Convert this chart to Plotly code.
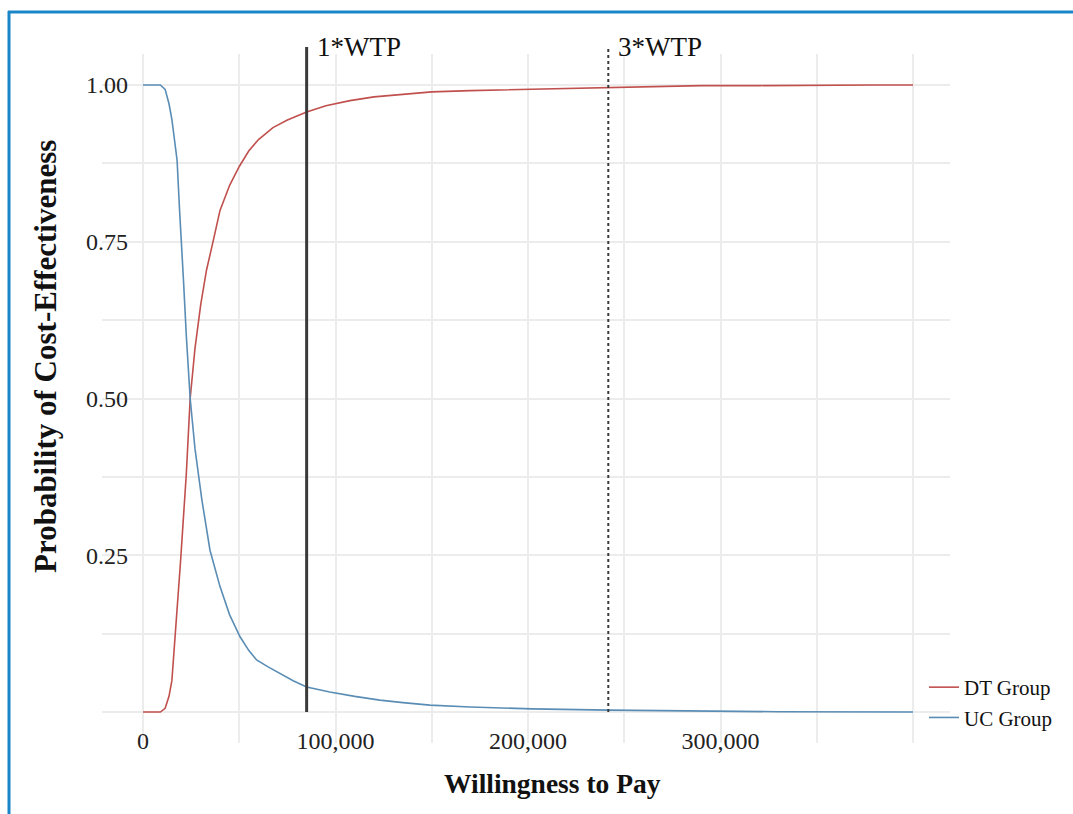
import plotly.graph_objects as go

# ---- data ----
dt_wtp = [0, 5000, 9000, 11500, 13500, 15000, 16500, 18000, 19500, 21000, 22500, 24500,
          27000, 30000, 33000, 36000, 40000, 45000, 50000, 55000, 60000, 67500, 75000,
          85000, 95000, 107500, 120000, 135000, 150000, 170000, 185000, 200000, 220000,
          242000, 260000, 290000, 320000, 350000, 380000, 400000]
dt_prob = [0, 0, 0, 0.006, 0.025, 0.05, 0.11, 0.17, 0.24, 0.31, 0.38, 0.50,
           0.58, 0.65, 0.705, 0.745, 0.80, 0.84, 0.87, 0.895, 0.913, 0.932, 0.944,
           0.957, 0.967, 0.975, 0.981, 0.985, 0.989, 0.991, 0.992, 0.994, 0.995,
           0.996, 0.998, 0.999, 0.999, 1.0, 1.0, 1.0]

uc_wtp = [0, 5000, 9000, 11500, 13500, 15000, 16500, 17700, 19000, 20000, 21000, 22500,
          24500, 27000, 30600, 34800, 40000, 45000, 50400, 55000, 59000, 65000, 71000,
          78000, 85000, 97000, 110000, 123000, 135000, 149000, 170000, 202000, 242000,
          290000, 330000, 400000]
uc_prob = [1, 1, 1, 0.993, 0.97, 0.945, 0.91, 0.88, 0.80, 0.753, 0.69, 0.60,
           0.50, 0.42, 0.338, 0.258, 0.20, 0.155, 0.12, 0.098, 0.083, 0.072, 0.062,
           0.05, 0.04, 0.032, 0.025, 0.019, 0.015, 0.011, 0.008, 0.005, 0.003,
           0.001, 0.0005, 0.0]

wtp_lines = [85000, 241700]
wtp_labels = ["1*WTP", "3*WTP"]
wtp_dash = ["solid", "dot"]
wtp_width = [3, 2]

x_ticks = [0, 100000, 200000, 300000]
x_tick_text = ["0", "100,000", "200,000", "300,000"]
y_ticks = [0.25, 0.5, 0.75, 1.0]
y_tick_text = ["0.25", "0.50", "0.75", "1.00"]

FONT = "Liberation Serif, Times New Roman, serif"
GRID = "#ECECEC"

# plot area in pixels (for paper conversions of decorations)
L, R, T, B = 102, 950, 54, 743
W, H = 1073, 814
def px(xp):
    return (xp - L) / (R - L)
def py(yp):
    return (B - yp) / (B - T)

fig = go.Figure()
fig.add_trace(go.Scatter(x=dt_wtp, y=dt_prob, mode="lines", name="DT Group",
                         line=dict(color="#C0504D", width=1.6)))
fig.add_trace(go.Scatter(x=uc_wtp, y=uc_prob, mode="lines", name="UC Group",
                         line=dict(color="#5A8DB5", width=1.6)))

shapes = []
annotations = []
for xv, lab, dash, w in zip(wtp_lines, wtp_labels, wtp_dash, wtp_width):
    shapes.append(dict(type="line", xref="x", yref="paper", x0=xv, x1=xv,
                       y0=py(712), y1=py(47),
                       line=dict(color="#3A3A3A", width=w, dash=dash)))
    annotations.append(dict(text=lab, xref="x", yref="paper", x=xv, y=py(47),
                            xanchor="left", yanchor="middle", xshift=8, showarrow=False,
                            font=dict(family=FONT, size=27, color="#111")))

# frame lines (left and top) of the picture
shapes.append(dict(type="line", xref="paper", yref="paper", x0=px(9), x1=px(9),
                   y0=py(11), y1=py(W), line=dict(color="#1A86C8", width=3)))
shapes.append(dict(type="line", xref="paper", yref="paper", x0=px(8), x1=px(1080),
                   y0=py(12), y1=py(12), line=dict(color="#1A86C8", width=3)))

annotations.append(dict(text="<b>Willingness to Pay</b>", xref="paper", yref="paper",
                        x=px(552), y=py(783), xanchor="center", yanchor="middle",
                        showarrow=False, font=dict(family=FONT, size=27.5, color="#111")))
annotations.append(dict(text="<b>Probability of Cost-Effectiveness</b>", xref="paper",
                        yref="paper", x=px(45), y=py(357), xanchor="center",
                        yanchor="middle", textangle=-90, showarrow=False,
                        font=dict(family=FONT, size=31, color="#111")))

fig.update_layout(
    width=W, height=H,
    margin=dict(l=L, r=W - R, t=T, b=H - B),
    paper_bgcolor="white", plot_bgcolor="white",
    font=dict(family=FONT, size=24, color="#222"),
    showlegend=True,
    legend=dict(x=px(924), y=py(667), xanchor="left", yanchor="top",
                font=dict(family=FONT, size=21, color="#111"),
                bgcolor="rgba(0,0,0,0)", tracegroupgap=0, itemwidth=30),
    shapes=shapes, annotations=annotations,
)
fig.update_xaxes(range=[-21300, 419200], tickvals=x_ticks, ticktext=x_tick_text,
                 showgrid=True, gridcolor=GRID, gridwidth=1.5, zeroline=False,
                 showline=False, ticks="", ticklabelstandoff=-19,
                 minor=dict(dtick=50000, tick0=0, showgrid=True, gridcolor=GRID, gridwidth=1.5))
fig.update_yaxes(range=[-0.0494, 1.0494], tickvals=y_ticks, ticktext=y_tick_text,
                 showgrid=True, gridcolor=GRID, gridwidth=1.5, zeroline=False,
                 showline=False, ticks="", ticklabelstandoff=-27,
                 minor=dict(dtick=0.125, tick0=0, showgrid=True, gridcolor=GRID, gridwidth=1.5))

fig.write_html("out.html")
